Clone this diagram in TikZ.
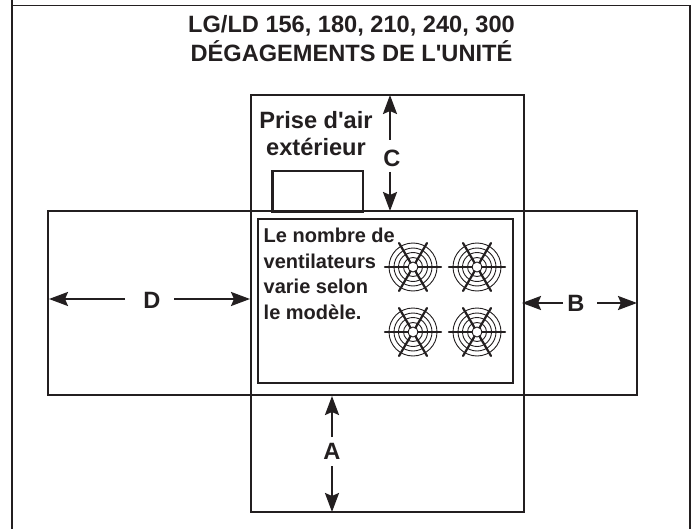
\documentclass[tikz,border=0pt]{standalone}
\usepackage{fontspec}
\setmainfont[Ligatures=TeXOff]{Liberation Sans}
\usetikzlibrary{arrows.meta}
\definecolor{ink}{HTML}{231F20}
\tikzset{
  frameline/.style={draw=ink,line width=1.5pt},
  boxline/.style={draw=ink,line width=2.6pt},
  dimline/.style={draw=ink,line width=2.2pt,-{Stealth[length=19pt,width=14pt,inset=3pt]}},
  lab/.style={text=ink,font=\bfseries\fontsize{23.6}{27}\selectfont,inner sep=0pt},
  titlelab/.style={text=ink,font=\bfseries\fontsize{23.6}{29}\selectfont,inner sep=0pt,align=center},
  fanline/.style={draw=ink,line width=0.9pt},
  fanspoke/.style={draw=ink,line width=2.2pt,line cap=round},
  pics/fan/.style={code={
    \foreach \r in {5,9.5,14.5,19,24} \draw[fanline] (0,0) circle[radius=\r];
    \draw[fanspoke] (-28,0) -- (-5,0) (5,0) -- (28,0);
    \draw[fanspoke] (-14,-24) -- (-2.5,-4.3) (2.5,4.3) -- (14,24);
    \draw[fanspoke] (14,-24) -- (2.5,-4.3) (-2.5,4.3) -- (-14,24);
  }}
}
\begin{document}
\begin{tikzpicture}[x=1pt,y=-1pt]
\useasboundingbox (0,0) rectangle (692,529);
\fill[white] (0,0) rectangle (692,529);
% outer frame
\draw[frameline] (12,0) -- (12,529);
\draw[frameline] (12,5.5) -- (690,5.5) -- (690,529);
% title
\node[titlelab] (title) at (351.5,38.5) {LG/LD 156, 180, 210, 240, 300\\DÉGAGEMENTS DE L'UNITÉ};
% cross-shaped clearance zones
\draw[boxline] (251,95) rectangle (524,512);
\draw[boxline] (48,211) rectangle (637,395);
% unit
\draw[boxline] (258,219) rectangle (513,383);
% air intake
\draw[boxline] (272.5,171) rectangle (363,212);
\node[lab,align=center] (air) at (316,134) {Prise d'air\\extérieur};
% note
\node[text=ink,font=\bfseries\fontsize{20}{25.5}\selectfont,inner sep=0pt,align=left,anchor=north west] (note) at (263.5,228) {Le nombre de\\ventilateurs\\varie selon\\le modèle.};
% fans
\pic at (413,267) {fan};
\pic at (477,267) {fan};
\pic at (413,332) {fan};
\pic at (477,332) {fan};
% dimension labels
\node[lab] (C) at (392,158) {C};
\node[lab] (D) at (152,300) {D};
\node[lab] (B) at (576,303) {B};
\node[lab] (A) at (332,451) {A};
% dimension end points
\coordinate (Ct) at (390,95);
\coordinate (Cb) at (390,211);
\coordinate (Dl) at (49,299);
\coordinate (Dr) at (250,299);
\coordinate (Bl) at (522,303);
\coordinate (Br) at (637,303);
\coordinate (At) at (332,396);
\coordinate (Ab) at (332,512);
% dimension arrows
\draw[dimline] (390,140) -- (Ct);
\draw[dimline] (390,172) -- (Cb);
\draw[dimline] (125,299) -- (Dl);
\draw[dimline] (174,299) -- (Dr);
\draw[dimline] (563,303) -- (Bl);
\draw[dimline] (597,303) -- (Br);
\draw[dimline] (332,437) -- (At);
\draw[dimline] (332,466) -- (Ab);
\end{tikzpicture}
\end{document}
